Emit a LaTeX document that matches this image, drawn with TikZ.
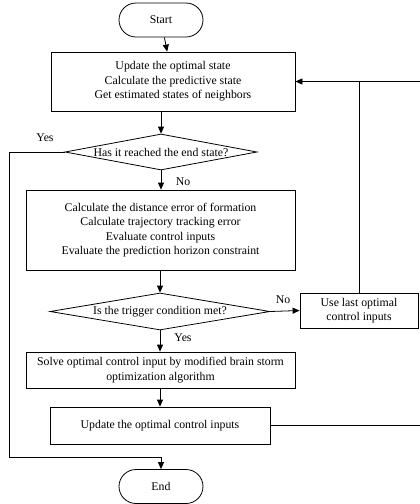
\documentclass[tikz,border=0pt]{standalone}
\usepackage{fontspec}
\setmainfont{Liberation Serif}
\usetikzlibrary{shapes.geometric,arrows.meta}
\begin{document}
\begin{tikzpicture}[x=1pt,y=-1pt,
  every node/.style={font=\fontsize{11.8}{14.6}\selectfont},
  box/.style={draw,line width=0.8pt,align=center,inner sep=0pt},
  term/.style={draw,line width=0.8pt,rounded corners=17pt,minimum width=84pt,minimum height=34pt,inner sep=0pt},
  dia/.style={draw,diamond,line width=0.8pt,inner sep=0pt},
  conn/.style={line width=0.8pt},
  arr/.style={conn,-{Triangle[length=7pt,width=6pt]}},
  lbl/.style={inner sep=0pt}]
\useasboundingbox (0,0) rectangle (420,504);

\node[term] (start) at (161,20) {Start};
\node[box,minimum width=244pt,minimum height=59pt] (b1) at (173,81.5)
  {Update the optimal state\\Calculate the predictive state\\Get estimated states of neighbors};
\node[dia,minimum width=192pt,minimum height=36pt] (d1) at (161,152)
  {\makebox[0pt]{Has it reached the end state?}};
\node[box,minimum width=269pt,minimum height=80pt] (b2) at (160.5,230)
  {Calculate the distance error of formation\\Calculate trajectory tracking error\\Evaluate control inputs\\Evaluate the prediction horizon constraint};
\node[dia,minimum width=220pt,minimum height=37pt] (d2) at (160,311.5)
  {\makebox[0pt]{Is the trigger condition met?}};
\node[box,minimum width=118pt,minimum height=35pt] (b3) at (359,310.5)
  {Use last optimal\\control inputs};
\node[box,minimum width=269pt,minimum height=36pt] (b4) at (160.5,370)
  {Solve optimal control input by modified brain storm\\optimization algorithm};
\node[box,minimum width=220pt,minimum height=37pt] (b5) at (160,425.5)
  {Update the optimal control inputs};
\node[term] (end) at (161,486.5) {End};

\coordinate (lb) at (9,457);
\coordinate (rtop) at (420,81.5);
\coordinate (rbot) at (420,425.5);

\draw[arr] (start) -- (b1);
\draw[arr] (b1.south -| start) -- (d1.north);
\draw[arr] (d1.south) -- (b2.north -| d1.south);
\draw[arr] (b2.south -| d2.north) -- (d2.north);
\draw[arr] (d2.east) -- (b3.west);
\draw[arr] (d2.south) -- (b4.north -| d2.south);
\draw[arr] (b4.south -| b5.north) -- (b5.north);
\draw[arr] (d1.west) -| (lb) -| (end.north);
\draw[conn] (b3.north) -- (b3.north |- b1.east);
\draw[arr] (rtop) -- (b1.east);
\draw[conn] (b5.east) -- (rbot);

\node[lbl] (y1) at (45,138) {Yes};
\node[lbl] (n1) at (183,182) {No};
\node[lbl] (n2) at (283,300) {No};
\node[lbl] (y2) at (183,338) {Yes};
\end{tikzpicture}
\end{document}
